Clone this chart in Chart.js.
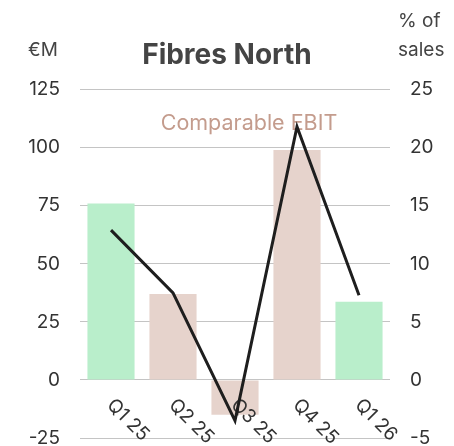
<!DOCTYPE html>
<html>
<head>
    <title>Fibres North</title>
    <script src="https://cdn.jsdelivr.net/npm/chart.js"></script>
    <style>
        body { margin: 0; background: #fff; }
    </style>
</head>
<body>
    <canvas id="grafico" width="454" height="446"></canvas>

    <script>
        // datos
        var trimestres = ['Q1 25', 'Q2 25', 'Q3 25', 'Q4 25', 'Q1 26'];
        var ebitMeur = [76, 37, -15, 99, 33.7];
        var margenPct = [12.9, 7.5, -3.5, 21.8, 7.3];
        var ejeIzq = { min: -25, max: 125, paso: 25 };
        var ejeDer = { min: -5, max: 25, paso: 5 };

        var fuente = 'Inter, "Open Sans", sans-serif';
        var verde = '#b9eecb';
        var rosa = '#e6d3cc';
        var coloresBarras = [verde, rosa, rosa, rosa, verde];

        var textos = {
            id: 'textos',
            beforeDatasetsDraw: function(chart) {
                var ctx = chart.ctx;
                var area = chart.chartArea;
                ctx.save();
                ctx.fillStyle = '#c49c8d';
                ctx.font = '21.5px ' + fuente;
                ctx.textAlign = 'center';
                ctx.textBaseline = 'middle';
                ctx.fillText('Comparable EBIT', (area.left + area.right) / 2 + 14, chart.scales.y.getPixelForValue(110.5));
                ctx.restore();
            },
            afterDatasetDraw: function(chart, args) {
                if (args.index !== 0) return;
                var ctx = chart.ctx;
                var y0 = chart.scales.y.getPixelForValue(0);
                ctx.save();
                ctx.fillStyle = '#333';
                ctx.font = '19px ' + fuente;
                ctx.textAlign = 'left';
                ctx.textBaseline = 'middle';
                trimestres.forEach(function(t, i) {
                    var x = chart.scales.x.getPixelForValue(i);
                    ctx.save();
                    ctx.translate(x - 1, y0 + 22);
                    ctx.rotate(Math.PI / 4);
                    ctx.fillText(t, 0, 0);
                    ctx.restore();
                });
                ctx.restore();
            },
            afterDraw: function(chart) {
                var ctx = chart.ctx;
                var area = chart.chartArea;
                ctx.save();
                ctx.fillStyle = '#444';
                ctx.font = '19px ' + fuente;
                ctx.textBaseline = 'middle';
                ctx.textAlign = 'left';
                ctx.fillText('€M', 28, area.top - 39);
                ctx.fillText('% of', 398, area.top - 68);
                ctx.fillText('sales', 398, area.top - 39);
                ctx.restore();
            }
        };

        var ctx = document.getElementById('grafico').getContext('2d');
        var grafico = new Chart(ctx, {
            type: 'bar',
            data: {
                labels: trimestres,
                datasets: [{
                    label: 'Comparable EBIT',
                    data: ebitMeur,
                    backgroundColor: coloresBarras,
                    barPercentage: 0.76,
                    categoryPercentage: 1.0,
                    yAxisID: 'y',
                    order: 1
                }, {
                    type: 'line',
                    label: '% of sales',
                    data: margenPct,
                    borderColor: '#1e1e1e',
                    borderWidth: 3,
                    pointRadius: 0,
                    tension: 0,
                    fill: false,
                    yAxisID: 'y1',
                    order: 0
                }]
            },
            options: {
                responsive: false,
                animation: false,
                layout: { padding: { bottom: 8 } },
                plugins: {
                    legend: { display: false },
                    tooltip: { enabled: false },
                    title: {
                        display: true,
                        text: 'Fibres North',
                        color: '#444',
                        font: { family: fuente, size: 28, weight: 'bold' },
                        padding: { top: 39, bottom: 17 }
                    }
                },
                scales: {
                    x: { display: false },
                    y: {
                        position: 'left',
                        min: ejeIzq.min,
                        max: ejeIzq.max,
                        ticks: { stepSize: ejeIzq.paso, color: '#333', padding: 20, font: { family: fuente, size: 19 } },
                        grid: { color: '#c4c4c4', drawTicks: false },
                        border: { display: false },
                        afterFit: function(s) { s.width = 80; s.paddingTop = 0; s.paddingBottom = 0; }
                    },
                    y1: {
                        position: 'right',
                        min: ejeDer.min,
                        max: ejeDer.max,
                        ticks: { stepSize: ejeDer.paso, color: '#333', padding: 20, font: { family: fuente, size: 19 } },
                        grid: { display: false, drawTicks: false },
                        border: { display: false },
                        afterFit: function(s) { s.width = 64; s.paddingTop = 0; s.paddingBottom = 0; }
                    }
                }
            },
            plugins: [textos]
        });
    </script>
</body>
</html>
